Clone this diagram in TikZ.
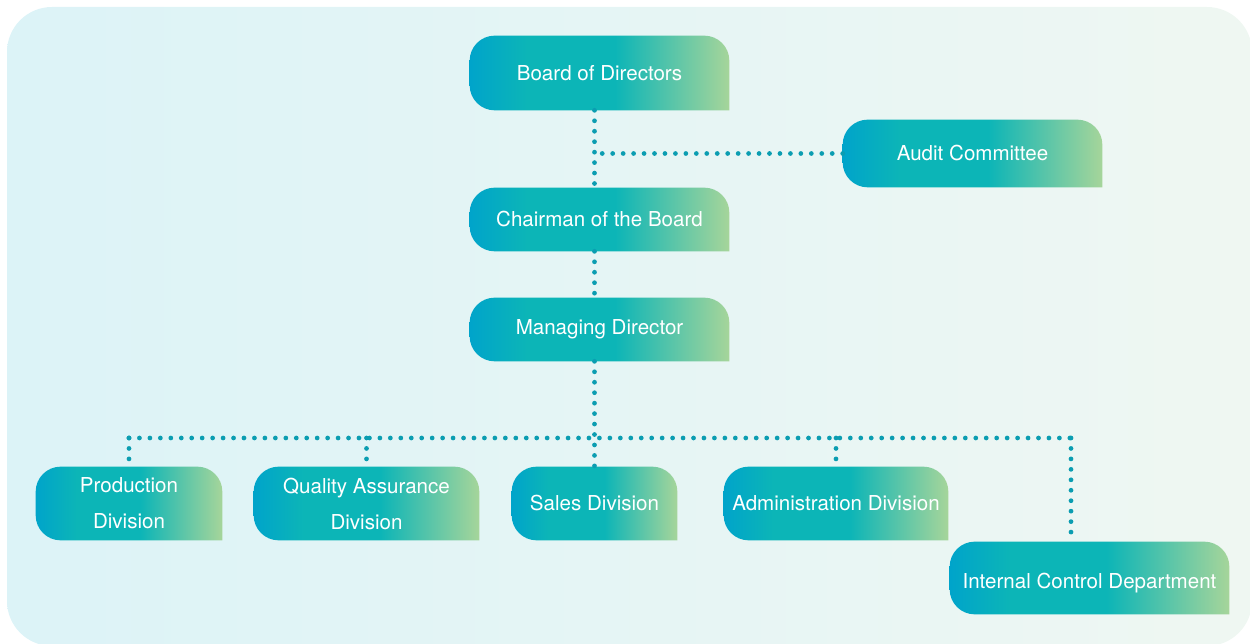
\documentclass[tikz,border=0pt]{standalone}
\usepackage{fontspec}
\setmainfont{TeX Gyre Heros}
\usetikzlibrary{backgrounds}
\definecolor{gA}{HTML}{00A4CA}
\definecolor{gB}{HTML}{0CB5B7}
\definecolor{gC}{HTML}{A6D59A}
\definecolor{bgL}{HTML}{DCF3F7}
\definecolor{bgR}{HTML}{EFF7F2}
\definecolor{dotc}{HTML}{0B9DB1}
\pgfdeclarehorizontalshading{orggrad}{100bp}{color(0bp)=(gA); color(25bp)=(gA); color(36bp)=(gB); color(53bp)=(gB); color(75bp)=(gC); color(100bp)=(gC)}
\tikzset{
  orgbox/.style={text=white, align=center, inner sep=0pt, font=\fontsize{11.7}{20.5}\selectfont},
  dotline/.style={draw=dotc, line width=2.7pt, line cap=round, dash pattern=on 0pt off 5.95pt}
}
\newcommand{\orgshape}[1]{%
  \shade[shading=orggrad] (#1.south east) -- ([xshift=5mm]#1.south west)
    arc[start angle=270, end angle=180, radius=5mm] -- ([yshift=-5mm]#1.north west)
    arc[start angle=180, end angle=90, radius=5mm] -- ([xshift=-5mm]#1.north east)
    arc[start angle=90, end angle=0, radius=5mm] -- cycle;}

\begin{document}
\begin{tikzpicture}[x=0.02cm, y=0.02cm]
\useasboundingbox (0,0) rectangle (1250,-644);
\node[orgbox, minimum width=5.18cm, minimum height=1.48cm] (board) at (599.5,-73) {Board of Directors};
\node[orgbox, minimum width=5.18cm, minimum height=1.34cm] (audit) at (972.5,-153.5) {Audit Committee};
\node[orgbox, minimum width=5.18cm, minimum height=1.26cm] (chair) at (599.5,-219.5) {Chairman of the Board};
\node[orgbox, minimum width=5.18cm, minimum height=1.26cm] (mgr) at (599.5,-329.5) {Managing Director};
\node[orgbox, minimum width=3.72cm, minimum height=1.46cm] (prod) at (129,-503.5) {Production\\Division};
\node[orgbox, minimum width=4.5cm, minimum height=1.46cm] (qa) at (366.5,-503.5) {Quality Assurance\\Division};
\node[orgbox, minimum width=3.3cm, minimum height=1.46cm] (sales) at (594.5,-503.5) {Sales Division};
\node[orgbox, minimum width=4.48cm, minimum height=1.46cm] (admin) at (836,-503.5) {Administration Division};
\node[orgbox, minimum width=5.58cm, minimum height=1.44cm, text height=15pt] (icd) at (1089.5,-578) {Internal Control Department};
\coordinate (bus) at (595,-438);
\coordinate (icdtap) at (1071,-438);
\draw[dotline] (board.south -| sales.north) -- (chair.north -| sales.north);
\draw[dotline] (audit.west) -- (audit.west -| sales.north);
\draw[dotline] (chair.south -| sales.north) -- (mgr.north -| sales.north);
\draw[dotline] (mgr.south -| sales.north) -- (sales.north);
\draw[dotline] (bus -| prod.north) -- (icdtap);
\draw[dotline] (bus -| prod.north) -- (prod.north);
\draw[dotline] (bus -| qa.north) -- (qa.north);
\draw[dotline] (bus -| admin.north) -- (admin.north);
\draw[dotline] (icdtap) -- (icdtap |- icd.north);
\begin{scope}[on background layer]
\shade[left color=bgL, right color=bgR, rounded corners=0.9cm] (7,-7) rectangle (1252,-646);
\foreach \n in {board,audit,chair,mgr,prod,qa,sales,admin,icd} {\orgshape{\n}}
\end{scope}
\end{tikzpicture}
\end{document}
